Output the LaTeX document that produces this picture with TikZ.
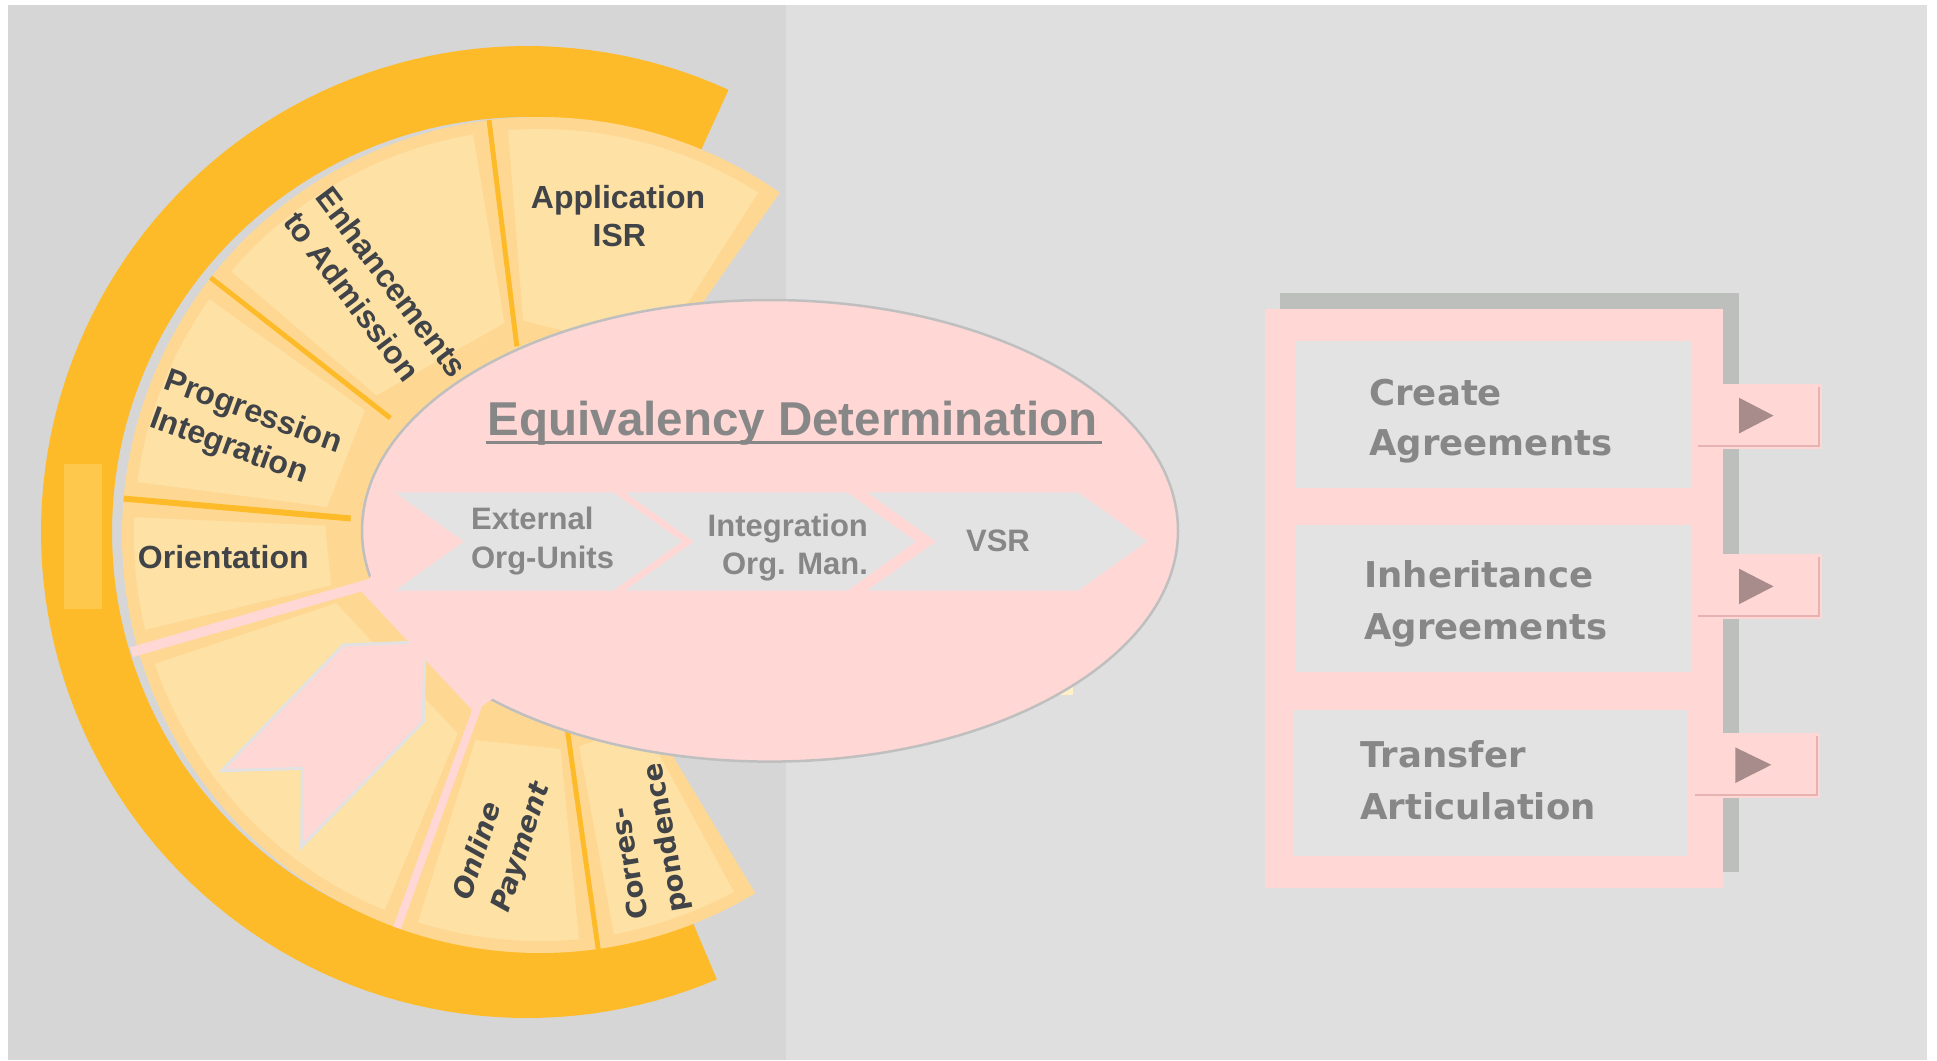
\documentclass[tikz,border=0pt]{standalone}
\usepackage{fontspec}
\setmainfont{Liberation Sans}
\newfontfamily\dvs{DejaVu Sans}
\definecolor{bgL}{HTML}{D6D6D6}
\definecolor{bgR}{HTML}{DFDFDF}
\definecolor{ringC}{HTML}{FEBB29}
\definecolor{ringL}{HTML}{FEC84C}
\definecolor{segD}{HTML}{FED893}
\definecolor{segL}{HTML}{FEE1A5}
\definecolor{pinkC}{HTML}{FFD7D5}
\definecolor{ellB}{HTML}{BFBFBF}
\definecolor{chevC}{HTML}{E3E3E3}
\definecolor{txtG}{HTML}{878787}
\definecolor{txtD}{HTML}{404347}
\definecolor{shadowC}{HTML}{BDBFBD}
\definecolor{triC}{HTML}{A88B8B}
\definecolor{creamC}{HTML}{FFF0C8}
\definecolor{arrowB}{HTML}{E2E2E2}
\definecolor{btnB}{HTML}{E6B2B2}
\begin{document}
\begin{tikzpicture}[x=0.5pt,y=-0.5pt,
  wheellbl/.style={font=\fontsize{16}{20}\selectfont\bfseries, text=txtD, inner sep=0pt},
  wheelit/.style={font=\dvs\fontsize{13.75}{20}\selectfont\bfseries\itshape, text=txtD, inner sep=0pt},
  wheeldv/.style={font=\dvs\fontsize{13.75}{20}\selectfont\bfseries, text=txtD, inner sep=0pt},
  titlelbl/.style={font=\fontsize{23.75}{28}\selectfont\bfseries, text=txtG, inner sep=0pt},
  chevlbl/.style={font=\fontsize{15.5}{19.5}\selectfont\bfseries, text=txtG, inner sep=0pt},
  boxlbl/.style={font=\dvs\fontsize{17.75}{25.5}\selectfont\bfseries, text=txtG, inner sep=0pt},
  chevshape/.style={fill=chevC},
  graybox/.style={fill=chevC},
  btnbox/.style={fill=pinkC},
  tri/.style={fill=triC},
  orangediv/.style={draw=ringC, line width=2.5pt},
  pinkdiv/.style={draw=pinkC, line width=4.5pt}
]
\useasboundingbox (0,0) rectangle (1937,1060);
\fill[white] (0,0) rectangle (1937,1060);
\fill[bgL] (8,5) rectangle (786,1060);
\fill[bgR] (786,5) rectangle (1927,1060);

% outer ring
\fill[ringC] plot[domain=65.5:293,samples=120] ({527+486*cos(\x)},{532-486*sin(\x)})
  -- plot[domain=293:65.5,samples=120] ({527+415*cos(\x)},{532-415*sin(\x)}) -- cycle;
\fill[ringL] (64,464) rectangle (102,609);

% segments
\foreach \a/\b in {55/97,97/142,142/175,175/196,196/250,250/278,278/301}{
  \pgfmathsetmacro\aa{\a+2.5}
  \pgfmathsetmacro\bb{\b-2.5}
  \fill[segD] plot[domain=\a:\b,samples=40] ({540+418*cos(\x)},{535-418*sin(\x)})
    -- plot[domain=\b:\a,samples=2] ({540+150*cos(\x)},{535-150*sin(\x)}) -- cycle;
  \fill[segL] plot[domain=\aa:\bb,samples=40] ({540+406*cos(\x)},{535-406*sin(\x)})
    -- plot[domain=\bb:\aa,samples=2] ({540+215*cos(\x)},{535-215*sin(\x)}) -- cycle;
}

% dividers
\foreach \t in {97,142,278}{
  \draw[orangediv] ({540+190*cos(\t)},{535-190*sin(\t)}) -- ({540+418*cos(\t)},{535-418*sin(\t)});
}
\draw[orangediv, line width=3pt] ({540+190*cos(175)},{535-190*sin(175)}) -- ({540+418*cos(175)},{535-418*sin(175)});
\draw[pinkdiv, line width=5pt] ({540+160*cos(196)},{535-160*sin(196)}) -- ({540+425*cos(196)},{535-425*sin(196)});
\draw[pinkdiv, line width=4pt] ({540+160*cos(250)},{535-160*sin(250)}) -- ({540+418*cos(250)},{535-418*sin(250)});

% pink arrow in the blank segment
\filldraw[fill=pinkC, draw=arrowB, line width=1.5pt]
  (343.3,645) -- (425,641.7) -- (423.3,721.7) -- (301.7,846.7) -- (302.3,768.3) -- (221.7,770.7) -- cycle;

% small cream spot
\fill[creamC] (1060,686.7) rectangle (1073.3,695);

% ellipse
\filldraw[fill=pinkC, draw=ellB, line width=1.25pt] (770,530.8) ellipse [x radius=204pt, y radius=115.4pt];
% hub
\fill[pinkC] (371,576) -- (360,590) -- (474,712) -- (492,699) -- (600,600) -- (420,560) -- cycle;

% chevrons
\fill[chevshape] (395,492.3) -- (613,492.3) -- (682,541.5) -- (613,590.7) -- (395,590.7) -- (464,541.5) -- cycle;
\fill[chevshape] (625,492.3) -- (847,492.3) -- (916,541.5) -- (847,590.7) -- (625,590.7) -- (694,541.5) -- cycle;
\fill[chevshape] (867,492.3) -- (1078,492.3) -- (1147,541.5) -- (1078,590.7) -- (867,590.7) -- (936,541.5) -- cycle;

% title
\node[titlelbl, anchor=base west] (title) at (487.3,435) {Equivalency Determination};
\draw[txtG, line width=1.4pt] (485.7,442.7) -- (1101.7,442.7);

% chevron labels
\node[chevlbl, anchor=base west] (ext1) at (470.7,529.3) {External};
\node[chevlbl, anchor=base west] (ext2) at (470.7,568.3) {Org-Units};
\node[chevlbl, anchor=base east] (int1) at (868.3,536) {Integration};
\node[chevlbl, anchor=base east] (int2) at (868.3,574.3) {Org. Man.};
\node[chevlbl, anchor=base] (vsr) at (998,551.7) {VSR};

% wheel labels
\node[wheellbl, anchor=base] (app1) at (618,208.3) {Application};
\node[wheellbl, anchor=base] (app2) at (619.3,246.7) {ISR};
\node[wheellbl, align=left, rotate=-53] (enh) at (376,294) {Enhancements\\to Admission};
\node[wheellbl, align=left, rotate=-20] (prog) at (245.7,432) {Progression\\Integration};
\node[wheellbl, anchor=base] (orient) at (223.3,568.2) {Orientation};
\node[wheelit, align=left, rotate=72] (onl) at (503,841.5) {Online\\Payment};
\node[wheeldv, align=left, rotate=100] (corr) at (647.8,841) {Corres-\\pondence};

% right panel
\fill[shadowC] (1280,293) rectangle (1739,872);
\fill[pinkC] (1264.5,308.5) rectangle (1723.4,887.8);
\fill[graybox] (1296,341.3) rectangle (1691,487.6);
\fill[graybox] (1296,525.2) rectangle (1691,671.5);
\fill[graybox] (1293,709.8) rectangle (1688,856.1);

\foreach \xa/\ya/\xb/\yb in {1696/384/1822/449, 1696/554/1822/619, 1693/733/1820/798}{
  \fill[btnbox] (\xa,\ya) rectangle (\xb,\yb);
  \draw[btnB, line width=0.8pt] (\xa+2,\yb-3) -- (\xb-3,\yb-3) -- (\xb-3,\ya+3);
}
\fill[tri] (1739.1,397.8) -- (1773.5,415.6) -- (1739.1,433.4) -- cycle;
\fill[tri] (1739.1,568.7) -- (1773.5,586.4) -- (1739.1,604.2) -- cycle;
\fill[tri] (1735.3,747.4) -- (1771.3,764.8) -- (1735.3,783) -- cycle;

\node[boxlbl, anchor=base west] (cr1) at (1369,405) {Create};
\node[boxlbl, anchor=base west] (cr2) at (1369,455) {Agreements};
\node[boxlbl, anchor=base west] (in1) at (1364,587) {Inheritance};
\node[boxlbl, anchor=base west] (in2) at (1364,639) {Agreements};
\node[boxlbl, anchor=base west] (tr1) at (1360,767.5) {Transfer};
\node[boxlbl, anchor=base west] (tr2) at (1360,819.5) {Articulation};
\end{tikzpicture}
\end{document}
